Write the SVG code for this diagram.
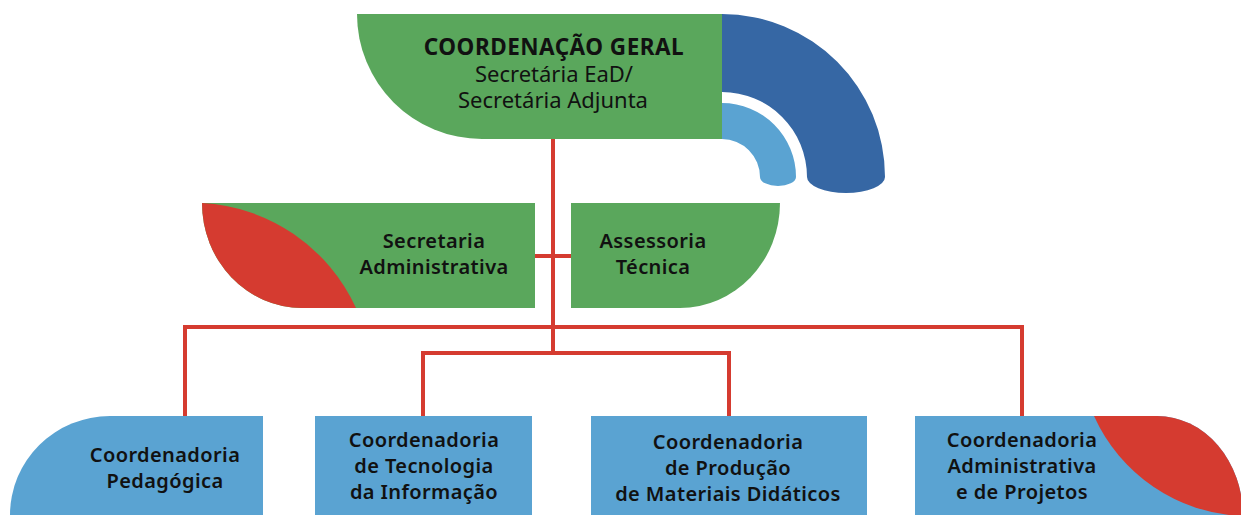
<svg xmlns="http://www.w3.org/2000/svg" width="1241" height="515" viewBox="0 0 1241 515">
<style>
.g{fill:#5aa75c}
.lb{fill:#5aa3d2}
.db{fill:#3667a4}
.r{fill:#d53b30}
.t{font-family:"Noto Sans","Liberation Sans",sans-serif;font-size:20px;font-weight:600;letter-spacing:0.4px;fill:#111;text-anchor:middle}
.n{font-weight:400;font-size:22px;letter-spacing:0}
.h{font-weight:700;font-size:22.5px;letter-spacing:0.5px}
.c{fill:none;stroke:#d53b30;stroke-width:4}
</style>
<rect width="1241" height="515" fill="#fff"/>
<g id="connectors">
<path class="c" d="M553,139 V353 M535,256 H571 M185,416 V327 H1022 V416 M423,416 V353 H729 V416"/>
</g>
<g id="coordenacao-geral">
<path class="g" d="M357,14 H722 V139 H482 A125,125 0 0 1 357,14 Z"/>
<path class="db" d="M722,14 A163,163 0 0 1 885,177 A39,16 0 0 1 807,177 A85,85 0 0 0 722,92 Z"/>
<path class="lb" d="M722,103 A74,74 0 0 1 796,177 A18,9 0 0 1 760,177 A38,38 0 0 0 722,139 Z"/>
<text class="t h" x="554" y="55">COORDENAÇÃO GERAL</text>
<text class="t n" x="554" y="82">Secretária EaD/</text>
<text class="t n" x="553" y="108">Secretária Adjunta</text>
</g>
<g id="secretaria-administrativa">
<path class="g" d="M202,203 H535 V308 H302 A100,105 0 0 1 202,203 Z"/>
<path class="r" d="M202,203 A180,180 0 0 1 356,308 H302 A100,105 0 0 1 202,203 Z"/>
<text class="t" x="434" y="248">Secretaria</text>
<text class="t" x="434" y="274">Administrativa</text>
</g>
<g id="assessoria-tecnica">
<path class="g" d="M571,203 H780 A100,105 0 0 1 680,308 H571 Z"/>
<text class="t" x="653" y="248">Assessoria</text>
<text class="t" x="653" y="274">Técnica</text>
</g>
<g id="coord-pedagogica">
<path class="lb" d="M10,515 A100,99 0 0 1 110,416 H263 V515 Z"/>
<text class="t" x="165" y="462">Coordenadoria</text>
<text class="t" x="165" y="488">Pedagógica</text>
</g>
<g id="coord-tecnologia">
<rect class="lb" x="315" y="416" width="217" height="99"/>
<text class="t" x="424" y="447">Coordenadoria</text>
<text class="t" x="424" y="473">de Tecnologia</text>
<text class="t" x="424" y="499">da Informação</text>
</g>
<g id="coord-producao">
<rect class="lb" x="591" y="416" width="276" height="99"/>
<text class="t" x="728" y="449">Coordenadoria</text>
<text class="t" x="728" y="475">de Produção</text>
<text class="t" x="728" y="501">de Materiais Didáticos</text>
</g>
<g id="coord-administrativa">
<path class="lb" d="M915,416 H1157 A86,100 0 0 1 1243,516 H915 Z"/>
<path class="r" d="M1094,416 H1157 A86,100 0 0 1 1243,516 H1241 A170,170 0 0 1 1094,416 Z"/>
<text class="t" x="1022" y="447">Coordenadoria</text>
<text class="t" x="1022" y="473">Administrativa</text>
<text class="t" x="1022" y="499">e de Projetos</text>
</g>
</svg>
